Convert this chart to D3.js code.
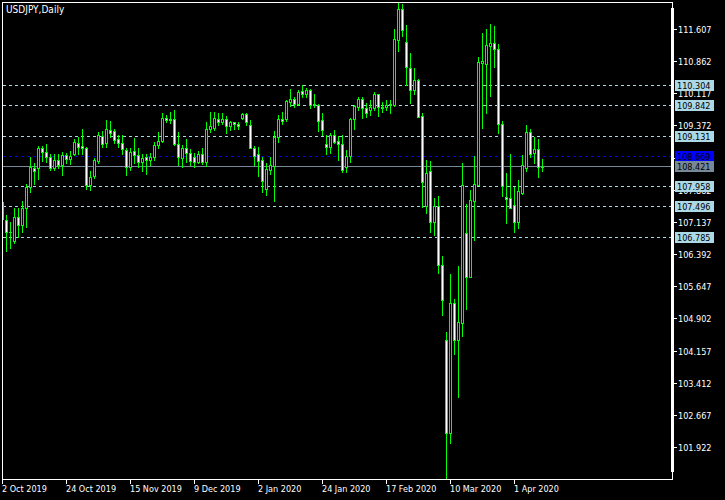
<!DOCTYPE html>
<html><head><meta charset="utf-8">
<script src="https://cdn.jsdelivr.net/npm/d3@7"></script>
<style>
body{margin:0;background:#000}
svg{display:block}
text{font-family:"DejaVu Sans Condensed","DejaVu Sans",sans-serif;font-stretch:condensed}
</style>
</head><body><svg id="c" width="725" height="500"></svg>
<script>
const title = "USDJPY,Daily";
const dates = [
"2019.10.02","2019.10.03","2019.10.04","2019.10.07","2019.10.08","2019.10.09","2019.10.10","2019.10.11","2019.10.14","2019.10.15",
"2019.10.16","2019.10.17","2019.10.18","2019.10.21","2019.10.22","2019.10.23","2019.10.24","2019.10.25","2019.10.28","2019.10.29",
"2019.10.30","2019.10.31","2019.11.01","2019.11.04","2019.11.05","2019.11.06","2019.11.07","2019.11.08","2019.11.11","2019.11.12",
"2019.11.13","2019.11.14","2019.11.15","2019.11.18","2019.11.19","2019.11.20","2019.11.21","2019.11.22","2019.11.25","2019.11.26",
"2019.11.27","2019.11.28","2019.11.29","2019.12.02","2019.12.03","2019.12.04","2019.12.05","2019.12.06","2019.12.09","2019.12.10",
"2019.12.11","2019.12.12","2019.12.13","2019.12.16","2019.12.17","2019.12.18","2019.12.19","2019.12.20","2019.12.23","2019.12.24",
"2019.12.26","2019.12.27","2019.12.30","2019.12.31","2020.01.02","2020.01.03","2020.01.06","2020.01.07","2020.01.08","2020.01.09",
"2020.01.10","2020.01.13","2020.01.14","2020.01.15","2020.01.16","2020.01.17","2020.01.20","2020.01.21","2020.01.22","2020.01.23",
"2020.01.24","2020.01.27","2020.01.28","2020.01.29","2020.01.30","2020.01.31","2020.02.03","2020.02.04","2020.02.05","2020.02.06",
"2020.02.07","2020.02.10","2020.02.11","2020.02.12","2020.02.13","2020.02.14","2020.02.17","2020.02.18","2020.02.19","2020.02.20",
"2020.02.21","2020.02.24","2020.02.25","2020.02.26","2020.02.27","2020.02.28","2020.03.02","2020.03.03","2020.03.04","2020.03.05",
"2020.03.06","2020.03.09","2020.03.10","2020.03.11","2020.03.12","2020.03.13","2020.03.16","2020.03.17","2020.03.18","2020.03.19",
"2020.03.20","2020.03.23","2020.03.24","2020.03.25","2020.03.26","2020.03.27","2020.03.30","2020.03.31","2020.04.01","2020.04.02",
"2020.04.03","2020.04.06","2020.04.07","2020.04.08","2020.04.09","2020.04.10"];

const open = [
107.62,107.19,106.92,106.70,107.25,107.07,107.48,107.96,108.39,108.39,
108.86,108.77,108.64,108.39,108.59,108.46,108.70,108.60,108.72,108.98,
108.90,108.86,108.00,108.21,108.55,109.13,108.97,109.27,109.25,109.06,
108.98,108.81,108.41,108.79,108.70,108.54,108.64,108.59,108.64,108.92,
109.03,109.55,109.51,109.52,108.96,108.62,108.85,108.75,108.65,108.54,
108.72,108.54,109.29,109.33,109.54,109.47,109.54,109.37,109.45,109.41,
109.55,109.64,109.39,108.87,108.71,108.58,107.90,108.35,108.44,109.12,
109.52,109.52,109.93,109.99,109.88,110.18,110.12,110.20,109.85,109.85,
109.50,108.96,108.89,109.16,109.03,108.96,108.43,108.67,109.52,109.81,
109.99,109.78,109.75,109.78,110.10,109.81,109.80,109.85,109.85,111.36,
112.07,111.32,110.70,110.20,110.43,109.60,107.52,108.33,107.14,107.52,
106.16,104.42,102.27,105.26,104.42,104.81,106.89,105.87,107.64,108.00,
110.83,110.80,111.23,111.30,111.14,109.41,107.73,107.69,107.55,107.15,
107.82,108.40,109.22,108.75,108.83,108.42];
const high = [
107.74,107.30,107.15,107.46,107.46,107.63,108.02,108.64,108.52,108.90,
108.91,108.95,108.72,108.72,108.72,108.77,108.75,108.80,109.06,109.12,
109.30,108.89,108.32,108.62,109.23,109.26,109.50,109.49,109.31,109.16,
109.16,108.85,108.85,109.09,108.85,108.73,108.73,108.75,109.00,109.23,
109.66,109.62,109.70,109.74,109.23,108.93,109.06,108.84,108.75,108.78,
108.85,109.47,109.70,109.70,109.66,109.67,109.60,109.49,109.47,109.45,
109.68,109.66,109.50,108.90,108.89,108.64,108.52,108.65,109.25,109.62,
109.70,109.98,110.22,110.05,110.20,110.32,110.24,110.22,110.11,109.88,
109.67,109.16,109.20,109.27,109.13,109.16,108.81,109.56,109.85,110.05,
110.05,109.89,109.97,110.15,110.12,109.93,109.97,109.97,111.61,112.22,
112.19,111.71,111.05,110.70,110.45,109.68,108.58,108.56,107.69,107.74,
106.36,104.59,105.94,105.37,106.12,108.50,107.57,107.88,108.67,110.96,
111.51,111.61,111.73,111.68,111.27,109.48,108.29,108.73,107.96,108.12,
108.70,109.39,109.30,109.12,109.06,108.60];
const low = [
107.17,106.48,106.55,106.65,106.79,106.92,107.03,107.84,108.02,108.15,
108.56,108.54,108.36,108.35,108.39,108.23,108.50,108.49,108.69,108.73,
108.73,107.90,107.88,108.16,108.50,108.89,108.89,109.12,108.97,108.89,
108.73,108.23,108.36,108.50,108.41,108.33,108.25,108.46,108.58,108.85,
109.00,109.47,109.43,108.93,108.46,108.42,108.54,108.46,108.42,108.50,
108.48,108.44,109.23,109.27,109.39,109.41,109.20,109.27,109.31,109.30,
109.52,109.39,108.85,108.46,108.21,107.84,107.77,108.25,107.64,109.00,
109.41,109.49,109.83,109.80,109.85,110.05,110.04,109.78,109.81,109.26,
109.16,108.72,108.75,108.97,108.58,108.31,108.30,108.54,109.31,109.74,
109.55,109.57,109.62,109.74,109.61,109.70,109.74,109.66,109.83,111.11,
111.46,110.32,109.89,110.12,109.57,107.50,107.36,106.92,106.84,105.97,
104.99,101.19,102.02,104.10,103.09,104.51,105.13,105.87,106.74,108.00,
109.33,109.66,110.07,110.74,109.21,107.75,107.13,107.46,106.92,107.01,
107.79,108.33,108.65,108.50,108.19,108.33];
const close = [
107.22,106.92,106.91,107.25,107.07,107.48,107.96,108.42,108.33,108.86,
108.76,108.66,108.39,108.59,108.46,108.70,108.60,108.67,109.00,108.89,
108.85,108.00,108.18,108.58,109.16,108.95,109.29,109.21,109.04,108.98,
108.83,108.41,108.77,108.70,108.54,108.62,108.58,108.64,108.93,109.03,
109.55,109.51,109.52,108.96,108.65,108.86,108.75,108.56,108.54,108.72,
108.54,109.29,109.37,109.56,109.47,109.53,109.37,109.45,109.41,109.37,
109.64,109.47,108.87,108.67,108.56,108.10,108.37,108.46,109.12,109.52,
109.49,109.95,109.99,109.88,110.15,110.12,110.20,109.85,109.87,109.49,
109.27,108.89,109.16,109.00,108.95,108.35,108.67,109.53,109.83,109.99,
109.78,109.68,109.81,110.10,109.81,109.78,109.85,109.87,111.38,112.07,
111.59,110.73,110.20,110.43,109.58,108.06,108.29,107.14,107.52,106.16,
105.35,102.27,105.26,104.42,104.83,108.00,105.87,107.65,108.02,110.84,
110.87,111.24,111.30,111.14,109.41,107.98,107.68,107.48,107.15,107.86,
108.46,109.22,108.73,108.83,108.41,108.42];

const priceTicks = [111.607,110.862,110.117,109.372,108.627,107.882,107.137,106.392,105.647,104.902,104.157,103.412,102.667,101.922];
const dateTickKeys = ["2019.10.02","2019.10.24","2019.11.15","2019.12.09","2020.01.02","2020.01.24","2020.02.17","2020.03.10","2020.04.01"];
const dateTickLabels = ["2 Oct 2019","24 Oct 2019","15 Nov 2019","9 Dec 2019","2 Jan 2020","24 Jan 2020","17 Feb 2020","10 Mar 2020","1 Apr 2020"];
const levelLines = [110.304,109.842,109.131,107.958,107.496,106.785];
const blueLevel = 108.669;
const bidLevel = 108.421;

const svg = d3.select("#c");
svg.attr("shape-rendering","crispEdges");
svg.append("rect").attr("width",725).attr("height",500).attr("fill","#000");

const x = d3.scalePoint().domain(dates).range([2,542]);
const y = d3.scaleLinear().domain([101.922,111.607]).range([447.6,29.3]);
const py = v => Math.floor(y(v));

svg.append("defs").append("clipPath").attr("id","plot")
  .append("rect").attr("x",3).attr("y",3).attr("width",668).attr("height",476);

const plot = svg.append("g").attr("clip-path","url(#plot)");

// level lines (behind candles)
plot.selectAll("line.lvl").data(levelLines).join("line")
  .attr("x1",3).attr("x2",671)
  .attr("y1",d=>py(d)+0.5).attr("y2",d=>py(d)+0.5)
  .attr("stroke","#add8e6").attr("stroke-width",1).attr("stroke-dasharray","3,3");
plot.append("line").attr("x1",3).attr("x2",671)
  .attr("y1",py(blueLevel)+0.5).attr("y2",py(blueLevel)+0.5)
  .attr("stroke","#0000ff").attr("stroke-dasharray","3,3");
plot.append("line").attr("x1",3).attr("x2",671)
  .attr("y1",py(bidLevel)+0.5).attr("y2",py(bidLevel)+0.5)
  .attr("stroke","#778899");

const bars = dates.map((d,i)=>({d, o:open[i], h:high[i], l:low[i], c:close[i]}));
const g = plot.selectAll("g.c").data(bars).join("g");
g.append("rect")
  .attr("x",b=>Math.round(x(b.d))).attr("width",1)
  .attr("y",b=>Math.round(y(b.h)))
  .attr("height",b=>Math.max(1,Math.round(y(b.l))-Math.round(y(b.h))+1))
  .attr("fill","#00ff00");
g.append("rect")
  .attr("x",b=>Math.round(x(b.d))-1).attr("width",3)
  .attr("y",b=>Math.round(y(Math.max(b.o,b.c))))
  .attr("height",b=>Math.max(1,Math.round(y(Math.min(b.o,b.c)))-Math.round(y(Math.max(b.o,b.c)))+1))
  .attr("fill","#00ff00");
g.filter(b=>Math.round(y(Math.min(b.o,b.c)))-Math.round(y(Math.max(b.o,b.c)))>=2)
  .append("rect")
  .attr("x",b=>Math.round(x(b.d))).attr("width",1)
  .attr("y",b=>Math.round(y(Math.max(b.o,b.c)))+1)
  .attr("height",b=>Math.round(y(Math.min(b.o,b.c)))-Math.round(y(Math.max(b.o,b.c)))-1)
  .attr("fill",b=>b.c<b.o?"#ffffff":"#000000");

// title
svg.append("text").attr("x",6).attr("y",13).attr("fill","#fff")
  .attr("font-size",10).text(title);

// frame
svg.append("rect").attr("x",2.5).attr("y",2.5).attr("width",670).attr("height",477)
  .attr("fill","none").attr("stroke","#fff");
svg.append("rect").attr("x",671).attr("y",8).attr("width",3).attr("height",464).attr("fill","#fff");

// price ticks
const pt = svg.append("g");
pt.selectAll("line").data(priceTicks).join("line")
  .attr("x1",673).attr("x2",677)
  .attr("y1",d=>py(d)+0.5).attr("y2",d=>py(d)+0.5).attr("stroke","#fff");
pt.selectAll("text").data(priceTicks).join("text")
  .attr("x",678).attr("y",d=>py(d)+4).attr("fill","#fff").attr("font-size",9)
  .text(d=>d.toFixed(3));

// level labels
const labels = levelLines.map(v=>({v,bg:"#add8e6",fg:"#000"}))
  .concat([{v:blueLevel,bg:"#0000ff",fg:"#000"},{v:bidLevel,bg:"#778899",fg:"#000"}]);
const lg = svg.append("g").selectAll("g").data(labels).join("g");
lg.append("rect").attr("x",675).attr("width",39)
  .attr("y",d=>py(d.v)-5).attr("height",11).attr("fill",d=>d.bg);
lg.append("text").attr("x",677).attr("y",d=>py(d.v)+4)
  .attr("fill",d=>d.fg).attr("font-size",9).text(d=>d.v.toFixed(3));

// date ticks
const dt = svg.append("g");
dt.selectAll("line").data(dateTickKeys).join("line")
  .attr("x1",d=>Math.round(x(d))+0.5).attr("x2",d=>Math.round(x(d))+0.5)
  .attr("y1",479).attr("y2",484).attr("stroke","#fff");
dt.selectAll("text").data(dateTickKeys).join("text")
  .attr("x",d=>Math.round(x(d))).attr("y",492).attr("fill","#fff").attr("font-size",9)
  .text((d,i)=>dateTickLabels[i]);
</script></body></html>
